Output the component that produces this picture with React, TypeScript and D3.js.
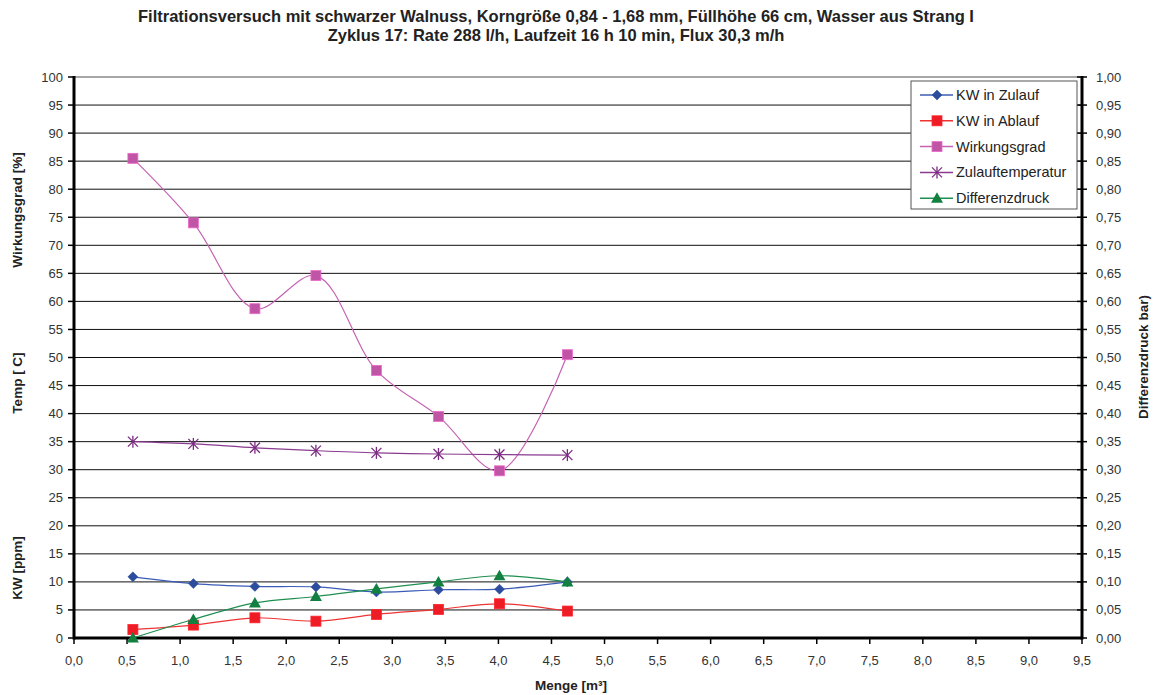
import React, { useEffect, useRef } from "react";
import * as d3 from "d3";

// Filter run data: throughput (m³) vs. measured quantities
const menge = [0.555, 1.125, 1.705, 2.28, 2.85, 3.435, 4.01, 4.65];
const kwZulauf = [10.9, 9.7, 9.2, 9.1, 8.2, 8.6, 8.7, 10.0];
const kwAblauf = [1.5, 2.3, 3.6, 3.0, 4.2, 5.1, 6.1, 4.8];
const wirkungsgrad = [85.5, 74.0, 58.7, 64.6, 47.7, 39.5, 29.8, 50.5];
const zulauftemperatur = [35.0, 34.6, 33.9, 33.4, 33.0, 32.8, 32.7, 32.6];
const differenzdruck = [0.0, 0.033, 0.0625, 0.074, 0.0875, 0.1, 0.111, 0.1];

const titleLines = [
  "Filtrationsversuch mit schwarzer Walnuss, Korngröße 0,84 - 1,68 mm, Füllhöhe 66 cm, Wasser aus Strang I",
  "Zyklus 17: Rate 288 l/h, Laufzeit 16 h 10 min, Flux 30,3 m/h",
];
const xTicks = d3.range(0, 9.51, 0.5);
const yLeftTicks = d3.range(0, 101, 5);
const yRightTicks = d3.range(0, 1.001, 0.05);

type Series = {
  name: string;
  values: number[];
  axis: "left" | "right";
  line: string;
  fill: string;
  marker: "diamond" | "square" | "star" | "triangle";
};

const series: Series[] = [
  { name: "KW in Zulauf", values: kwZulauf, axis: "left", line: "#3a5cb4", fill: "#2c4c9e", marker: "diamond" },
  { name: "KW in Ablauf", values: kwAblauf, axis: "left", line: "#ee3333", fill: "#ee1c24", marker: "square" },
  { name: "Wirkungsgrad", values: wirkungsgrad, axis: "left", line: "#c562b2", fill: "#c055a6", marker: "square" },
  { name: "Zulauftemperatur", values: zulauftemperatur, axis: "left", line: "#8a3a90", fill: "#7a2a80", marker: "star" },
  { name: "Differenzdruck", values: differenzdruck, axis: "right", line: "#1f8f50", fill: "#128040", marker: "triangle" },
];

const W = 1157;
const H = 695;
const M = { left: 74, right: 1082, top: 77, bottom: 638 };
const FONT = "'Liberation Sans', Arial, sans-serif";

function Marker({ kind, x, y, fill }: { kind: Series["marker"]; x: number; y: number; fill: string }) {
  if (kind === "diamond") {
    const r = 5;
    return <path d={`M${x},${y - r}L${x + r},${y}L${x},${y + r}L${x - r},${y}Z`} fill={fill} stroke={fill} strokeWidth={0.5} />;
  }
  if (kind === "square") {
    const s = 10;
    return <rect x={x - s / 2} y={y - s / 2} width={s} height={s} fill={fill} stroke={d3.color(fill)!.brighter(0.6).toString()} strokeWidth={0.8} />;
  }
  if (kind === "triangle") {
    const r = 6;
    return <path d={`M${x},${y - r}L${x + r},${y + r * 0.75}L${x - r},${y + r * 0.75}Z`} fill={fill} />;
  }
  const r = 5;
  return (
    <g stroke={fill} strokeWidth={1.3}>
      <line x1={x - r} y1={y - r} x2={x + r} y2={y + r} />
      <line x1={x - r} y1={y + r} x2={x + r} y2={y - r} />
      <line x1={x} y1={y - r - 1} x2={x} y2={y + r + 1} />
    </g>
  );
}

export default function App() {
  const ref = useRef<SVGSVGElement>(null);
  useEffect(() => {
    document.body.style.margin = "0";
  }, []);

  const x = d3.scaleLinear().domain([0, 9.5]).range([M.left, M.right]);
  const yL = d3.scaleLinear().domain([0, 100]).range([M.bottom, M.top]);
  const yR = d3.scaleLinear().domain([0, 1]).range([M.bottom, M.top]);

  const fmt1 = (v: number) => v.toFixed(1).replace(".", ",");
  const fmt2 = (v: number) => v.toFixed(2).replace(".", ",");

  const legendItems = series.map((s, i) => ({ s, y: 95 + i * 25.8 }));

  return (
    <svg ref={ref} width={W} height={H} style={{ display: "block", background: "#fff" }} fontFamily={FONT}>
      {/* title */}
      {titleLines.map((t, i) => (
        <text key={i} x={556} y={22 + i * 19} textAnchor="middle" fontSize={16.5} fontWeight="bold" fill="#222">
          {t}
        </text>
      ))}

      {/* horizontal gridlines */}
      {yLeftTicks.map((v) => (
        <line key={v} x1={M.left} x2={M.right} y1={yL(v)} y2={yL(v)} stroke={v === 100 ? "#888" : "#111"} strokeWidth={v === 100 ? 1.5 : 1} />
      ))}

      {/* axes */}
      <line x1={M.left} x2={M.left} y1={M.top - 1} y2={M.bottom + 1.5} stroke="#000" strokeWidth={3} />
      <line x1={M.right} x2={M.right} y1={M.top - 1} y2={M.bottom + 1.5} stroke="#000" strokeWidth={3} />
      <line x1={M.left} x2={M.right} y1={M.bottom} y2={M.bottom} stroke="#000" strokeWidth={3} />

      {/* left ticks and labels */}
      {yLeftTicks.map((v) => (
        <g key={v}>
          <line x1={M.left - 6} x2={M.left} y1={yL(v)} y2={yL(v)} stroke="#000" strokeWidth={1.5} />
          <text x={63} y={yL(v) + 4.5} textAnchor="end" fontSize={13} fill="#333">
            {v}
          </text>
        </g>
      ))}

      {/* right ticks and labels */}
      {yRightTicks.map((v) => (
        <g key={v.toFixed(2)}>
          <line x1={M.right - 5} x2={M.right + 5} y1={yR(v)} y2={yR(v)} stroke="#000" strokeWidth={1.5} />
          <text x={1096} y={yR(v) + 4.5} textAnchor="start" fontSize={13} fill="#333">
            {fmt2(v)}
          </text>
        </g>
      ))}

      {/* bottom ticks and labels */}
      {xTicks.map((v) => (
        <g key={v.toFixed(1)}>
          <line x1={x(v)} x2={x(v)} y1={M.bottom} y2={M.bottom + 6} stroke="#000" strokeWidth={1.5} />
          <text x={x(v)} y={665} textAnchor="middle" fontSize={13} fill="#333">
            {fmt1(v)}
          </text>
        </g>
      ))}

      {/* axis titles */}
      <text transform="translate(22,210) rotate(-90)" textAnchor="middle" fontSize={13.5} fontWeight="bold" fill="#222">Wirkungsgrad [%]</text>
      <text transform="translate(22,383) rotate(-90)" textAnchor="middle" fontSize={13.5} fontWeight="bold" fill="#222">Temp [ C]</text>
      <text transform="translate(22,568) rotate(-90)" textAnchor="middle" fontSize={13.5} fontWeight="bold" fill="#222">KW [ppm]</text>
      <text transform="translate(1148,357) rotate(-90)" textAnchor="middle" fontSize={13.5} fontWeight="bold" fill="#222">Differenzdruck  bar)</text>
      <text x={571} y={690} textAnchor="middle" fontSize={13.5} fontWeight="bold" fill="#222">Menge [m³]</text>

      {/* series */}
      {series.map((s) => {
        const ys = s.axis === "left" ? yL : yR;
        const pts: [number, number][] = menge.map((m, i) => [x(m), ys(s.values[i])]);
        const path = d3.line().curve(d3.curveCatmullRom.alpha(0.5))(pts) || "";
        return (
          <g key={s.name}>
            <path d={path} fill="none" stroke={s.line} strokeWidth={1.2} />
            {pts.map(([px, py], i) => (
              <Marker key={i} kind={s.marker} x={px} y={py} fill={s.fill} />
            ))}
          </g>
        );
      })}

      {/* legend */}
      <rect x={911} y={81} width={166} height={128} fill="#fff" stroke="#555" strokeWidth={1} />
      {legendItems.map(({ s, y }) => (
        <g key={s.name}>
          <line x1={920} x2={953} y1={y} y2={y} stroke={s.line} strokeWidth={1.5} />
          <Marker kind={s.marker} x={937} y={y} fill={s.fill} />
          <text x={956} y={y + 5} fontSize={14.5} fill="#222">
            {s.name}
          </text>
        </g>
      ))}
    </svg>
  );
}
